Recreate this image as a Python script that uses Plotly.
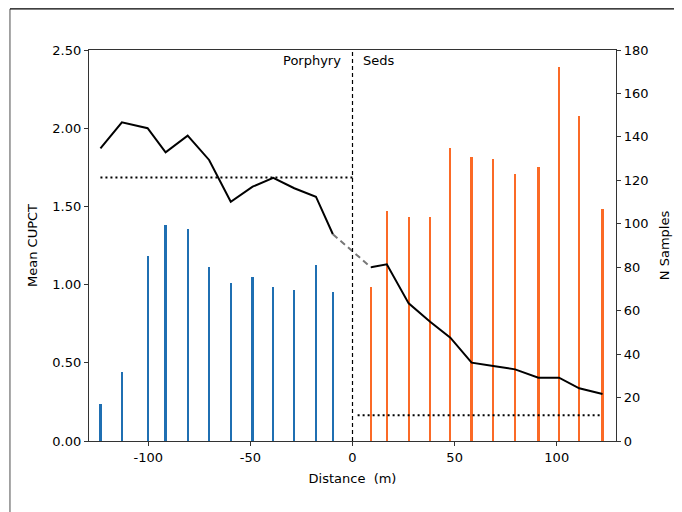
import plotly.graph_objects as go

# Data
por_dist = [-123.4, -112.9, -100.3, -91.5, -80.7, -70.2, -59.6, -48.9, -38.8, -28.5, -17.9, -9.6]
por_n = [17, 31.6, 85, 99.6, 97.6, 80.1, 72.7, 75.6, 70.7, 69.7, 81.1, 68.7]
por_cu = [1.871, 2.038, 2.0, 1.846, 1.952, 1.797, 1.530, 1.626, 1.682, 1.616, 1.562, 1.322]

sed_dist = [9.0, 16.8, 27.5, 38.0, 47.9, 58.3, 68.9, 79.6, 91.0, 101.1, 111.0, 122.4]
sed_n = [70.8, 105.9, 103.0, 103.0, 134.8, 130.9, 129.9, 122.9, 126.0, 172.1, 149.8, 106.8]
sed_cu = [1.111, 1.130, 0.880, 0.763, 0.661, 0.501, 0.480, 0.458, 0.405, 0.405, 0.337, 0.301]

por_mean = 1.684
sed_mean = 0.164
por_mean_x = [-123.4, 0]
sed_mean_x = [2.5, 122.4]

x_tickvals = [-100, -50, 0, 50, 100]
x_ticktext = ["-100", "-50", "0", "50", "100"]

FONT = "DejaVu Sans"
BLUE = "#1f6fb2"
ORANGE = "#fb6a26"

fig = go.Figure()

fig.add_trace(go.Bar(x=por_dist, y=por_n, width=1.1, marker=dict(color=BLUE, line=dict(width=0)),
                     yaxis="y", showlegend=False))
fig.add_trace(go.Bar(x=sed_dist, y=sed_n, width=1.1, marker=dict(color=ORANGE, line=dict(width=0)),
                     yaxis="y", showlegend=False))

fig.add_trace(go.Scatter(x=por_dist, y=por_cu, mode="lines", line=dict(color="black", width=2),
                         yaxis="y2", showlegend=False))
fig.add_trace(go.Scatter(x=sed_dist, y=sed_cu, mode="lines", line=dict(color="black", width=2),
                         yaxis="y2", showlegend=False))
fig.add_trace(go.Scatter(x=[por_dist[-1], sed_dist[0]], y=[por_cu[-1], sed_cu[0]], mode="lines",
                         line=dict(color="#777777", width=2, dash="6px,4px"), yaxis="y2", showlegend=False))
fig.add_trace(go.Scatter(x=por_mean_x, y=[por_mean, por_mean], mode="lines",
                         line=dict(color="black", width=2, dash="2px,3px"), yaxis="y2", showlegend=False))
fig.add_trace(go.Scatter(x=sed_mean_x, y=[sed_mean, sed_mean], mode="lines",
                         line=dict(color="black", width=2, dash="2px,3px"), yaxis="y2", showlegend=False))

axis_common = dict(showgrid=False, zeroline=False, ticks="outside", ticklen=4, tickwidth=1,
                   tickcolor="#333", linecolor="#333", linewidth=1.2, showline=True,
                   tickfont=dict(family=FONT, size=13, color="black"))

fig.update_layout(
    width=674, height=504,
    margin=dict(l=81, r=66, t=42, b=71),
    paper_bgcolor="white", plot_bgcolor="white",
    bargap=0,
    font=dict(family=FONT, size=13, color="black"),
    xaxis=dict(range=[-129, 129], tickvals=x_tickvals, ticktext=x_ticktext, mirror=True,
               title=dict(text="Distance  (m)", font=dict(family=FONT, size=13), standoff=10),
               **axis_common),
    yaxis=dict(range=[0, 180], dtick=20, side="right",
               title=dict(text="N Samples", font=dict(family=FONT, size=13), standoff=12),
               **axis_common),
    yaxis2=dict(range=[0, 2.5], dtick=0.5, tickformat=".2f", side="left", overlaying="y",
                title=dict(text="Mean CUPCT", font=dict(family=FONT, size=13), standoff=11),
                **axis_common),
    shapes=[
        dict(type="line", xref="x", yref="paper", x0=0, x1=0, y0=0, y1=1,
             line=dict(color="black", width=1.2, dash="4px,3px")),
        dict(type="line", xref="paper", yref="paper", x0=-0.150, x1=-0.150, y0=1.105, y1=-0.25,
             line=dict(color="#888888", width=1.5)),
        dict(type="line", xref="paper", yref="paper", x0=-0.150, x1=1.2, y0=1.105, y1=1.105,
             line=dict(color="black", width=1.2)),
    ],
    annotations=[
        dict(x=0, y=1, xref="x", yref="paper", text="Porphyry", showarrow=False,
             xanchor="right", yanchor="top", xshift=-10, yshift=-1, font=dict(family=FONT, size=13)),
        dict(x=0, y=1, xref="x", yref="paper", text="Seds", showarrow=False,
             xanchor="left", yanchor="top", xshift=8, yshift=-1, font=dict(family=FONT, size=13)),
    ],
)

fig.write_html("out.html")
